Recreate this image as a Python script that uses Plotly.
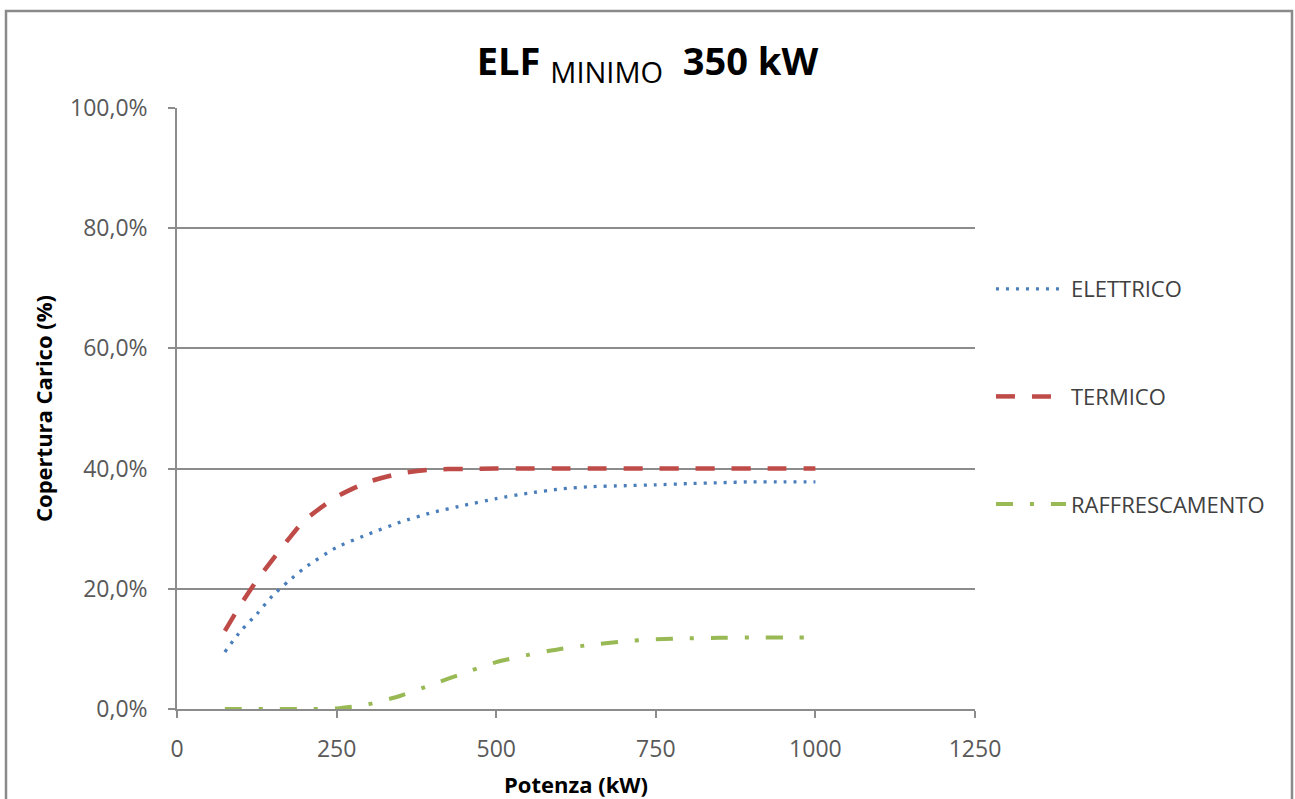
import plotly.graph_objects as go

# Potenza installata (kW)
POTENZA = [75, 100, 125, 150, 175, 200, 250, 300, 350, 400, 450,
           500, 550, 600, 650, 700, 750, 800, 850, 900, 950, 1000]

# Copertura del carico (%)
ELETTRICO = [9.5, 13.0, 15.8, 18.9, 21.3, 23.5, 26.9, 29.1, 31.1, 32.7, 33.9,
             35.0, 35.9, 36.6, 37.0, 37.15, 37.3, 37.5, 37.65, 37.8, 37.8, 37.8]
TERMICO = [13.0, 17.4, 21.4, 24.9, 28.3, 31.4, 35.3, 37.8, 39.2, 39.85, 39.95,
           40.0, 40.0, 40.0, 40.0, 40.0, 40.0, 40.0, 40.0, 40.0, 40.0, 40.0]
RAFFRESCAMENTO = [0.0, 0.0, 0.0, 0.0, 0.0, 0.0, 0.1, 0.8, 2.2, 4.1, 6.0,
                  7.8, 9.0, 10.0, 10.7, 11.25, 11.6, 11.75, 11.85, 11.9, 11.9, 11.9]

X_TICKS = [0, 250, 500, 750, 1000, 1250]
Y_TICKS = [0, 20, 40, 60, 80, 100]
Y_LABELS = [f"{v:.1f}%".replace(".", ",") for v in Y_TICKS]

FONT = "Open Sans"
GRID = "#8c8c8c"

fig = go.Figure()

series = [
    ("ELETTRICO", ELETTRICO, "#4a7ebb", 3.3, "3px,7px", "g1"),
    ("TERMICO", TERMICO, "#be4b48", 4.5, "19px,17px", "g2"),
    ("RAFFRESCAMENTO", RAFFRESCAMENTO, "#98b954", 4.0, "17px,17px,4px,17px", "g3"),
]
for name, vals, color, width, dash, grp in series:
    fig.add_trace(go.Scatter(
        x=POTENZA, y=vals, name=name, mode="lines", legendgroup=grp,
        line=dict(color=color, width=width, dash=dash, shape="spline", smoothing=0.6),
        hoverinfo="skip",
    ))

fig.update_layout(
    width=1295, height=799,
    margin=dict(l=177, r=320, t=108, b=90),
    paper_bgcolor="white", plot_bgcolor="white",
    font=dict(family=FONT, color="#404040"),
    title=dict(
        text="<b>ELF </b><sub><span style='font-size:29px'>MINIMO</span></sub><b>  350 kW</b>",
        x=0.5, xref="container", xanchor="center",
        y=1 - 62 / 799, yref="container", yanchor="middle",
        font=dict(family=FONT, size=38, color="black"),
    ),
    xaxis=dict(
        range=[0, 1250], tickvals=X_TICKS, showgrid=False, zeroline=False,
        showline=True, linecolor=GRID, linewidth=1.5, automargin=False,
        ticks="outside", ticklen=7, tickcolor=GRID, tickwidth=1.5,
        ticklabelstandoff=12,
        tickfont=dict(family=FONT, size=23, color="#595959"),
        title=dict(text="<b>Potenza (kW)</b>", standoff=14,
                   font=dict(family=FONT, size=22, color="black")),
    ),
    yaxis=dict(
        range=[0, 100], tickvals=Y_TICKS, ticktext=Y_LABELS,
        showgrid=True, gridcolor=GRID, gridwidth=1.5, zeroline=False,
        showline=True, linecolor=GRID, linewidth=1.5, automargin=False,
        ticks="outside", ticklen=7, tickcolor=GRID, tickwidth=1.5,
        ticklabelstandoff=16,
        tickfont=dict(family=FONT, size=23, color="#595959"),
        title=dict(text="<b>Copertura Carico (%)</b>", standoff=11,
                   font=dict(family=FONT, size=22, color="black")),
    ),
    legend=dict(
        x=1.02, xanchor="left", y=0.52, yanchor="middle",
        itemwidth=70,
        font=dict(family=FONT, size=22, color="#404040"),
        tracegroupgap=76, bgcolor="rgba(0,0,0,0)",
    ),
    shapes=[dict(
        type="rect", xref="paper", yref="paper",
        x0=(6 - 177) / 798, x1=(1292 - 177) / 798,
        y0=-0.2, y1=(709 - 11) / 601,
        line=dict(color="#8a8a8a", width=2.5), fillcolor="rgba(0,0,0,0)",
        layer="below",
    )],
)

fig.write_html("out.html")
